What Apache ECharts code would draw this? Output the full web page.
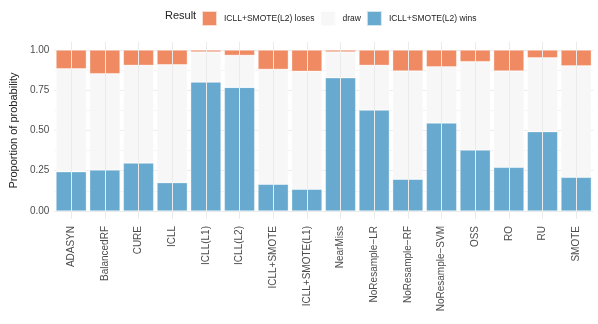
<!DOCTYPE html>
<html>
<head>
<meta charset="utf-8">
<script src="https://cdn.jsdelivr.net/npm/echarts@6/dist/echarts.min.js"></script>
<style>
  html, body { margin: 0; padding: 0; background: #fff; }
  #chart { width: 598px; height: 324px; }
</style>
</head>
<body>
<div id="chart"></div>
<script>
const methods = ['ADASYN', 'BalancedRF', 'CURE', 'ICLL', 'ICLL(L1)', 'ICLL(L2)', 'ICLL+SMOTE',
  'ICLL+SMOTE(L1)', 'NearMiss', 'NoResample\u2212LR', 'NoResample\u2212RF', 'NoResample\u2212SVM',
  'OSS', 'RO', 'RU', 'SMOTE']
const wins  = [0.244, 0.255, 0.298, 0.176, 0.801, 0.768, 0.166, 0.135, 0.828, 0.627, 0.197, 0.547, 0.379, 0.271, 0.493, 0.209]
const loses = [0.116, 0.147, 0.095, 0.091, 0.012, 0.033, 0.120, 0.132, 0.012, 0.095, 0.130, 0.104, 0.072, 0.130, 0.048, 0.098]
const draws = wins.map((w, i) => +(1 - w - loses[i]).toFixed(3))

const colors = { loses: '#EF8A62', draw: '#F7F7F7', wins: '#67A9CF' }
const labelFont = 'Liberation Sans, Arial, sans-serif'

// split line colours, one per tick (ticks every 0.025 from -0.05)
const gridColors = []
for (let k = 0; k < 10; k++) {
  gridColors.push(k === 2 ? '#EBEBEB' : (k === 7 ? '#F4F4F4' : 'rgba(0,0,0,0)'))
}

function barSeries(name, data, color) {
  return {
    name: name,
    type: 'bar',
    stack: 'total',
    data: data,
    barWidth: '90%',
    z: 2,
    itemStyle: { color: color, borderColor: 'rgba(255,255,255,0.7)', borderWidth: 0.5 },
    emphasis: { disabled: true }
  }
}

const chart = echarts.init(document.getElementById('chart'))
chart.setOption({
  animation: false,
  title: {
    text: 'Result',
    left: 160,
    top: 5,
    textStyle: { fontFamily: labelFont, fontSize: 11, fontWeight: 'normal', color: '#222' }
  },
  legend: {
    left: 196,
    top: 5,
    itemWidth: 15,
    itemHeight: 15,
    itemGap: 5,
    icon: 'rect',
    data: ['ICLL+SMOTE(L2) loses', 'draw', 'ICLL+SMOTE(L2) wins'],
    textStyle: { fontFamily: labelFont, fontSize: 8.5, color: '#222', padding: [0, 0, 0, 2] }
  },
  grid: { left: 43, right: 5, top: 42, bottom: 105, containLabel: false },
  xAxis: {
    type: 'category',
    data: methods,
    axisLine: { show: false },
    axisTick: { show: false },
    splitLine: { show: false },
    axisLabel: {
      rotate: 90,
      interval: 0,
      margin: 7,
      fontFamily: labelFont,
      fontSize: 10,
      color: '#4D4D4D'
    }
  },
  yAxis: {
    type: 'value',
    min: -0.05,
    max: 1.05,
    interval: 0.025,
    name: 'Proportion of probability',
    nameLocation: 'middle',
    nameGap: 32,
    nameTextStyle: { fontFamily: labelFont, fontSize: 11, color: '#222' },
    axisLine: { show: false },
    axisTick: { show: false },
    axisLabel: {
      margin: 5,
      fontFamily: labelFont,
      fontSize: 10,
      color: '#4D4D4D',
      formatter: function (v) {
        const m = Math.round(v * 1000)
        return (m % 250 === 0 && m >= 0 && m <= 1000) ? (m / 1000).toFixed(2) : ''
      }
    },
    splitLine: { show: true, lineStyle: { color: gridColors, width: 1 } }
  },
  series: [
    {
      // vertical major grid lines at category centres, behind the bars
      type: 'line',
      data: [],
      z: 0,
      silent: true,
      markLine: {
        silent: true,
        symbol: 'none',
        label: { show: false },
        lineStyle: { color: '#EBEBEB', width: 1, type: 'solid' },
        data: methods.map(m => ({ xAxis: m }))
      }
    },
    barSeries('ICLL+SMOTE(L2) wins', wins, colors.wins),
    barSeries('draw', draws, colors.draw),
    barSeries('ICLL+SMOTE(L2) loses', loses, colors.loses)
  ]
})
</script>
</body>
</html>
